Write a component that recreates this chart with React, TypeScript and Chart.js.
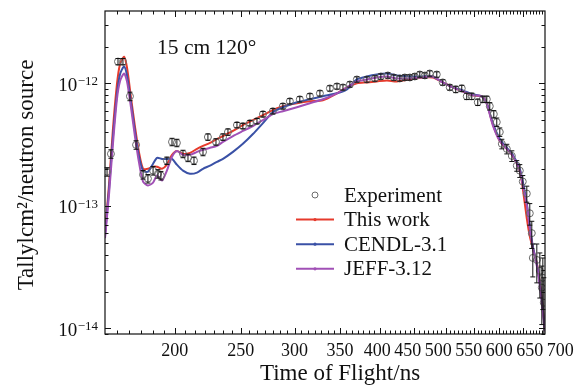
import React, { useEffect, useRef } from "react";
import { Chart, registerables } from "chart.js";

Chart.register(...registerables);

const SERIF = '"Liberation Serif", "Times New Roman", "DejaVu Serif", serif';

// ---- data (time of flight in ns, tally in units of 1e-12 per cm^2 per source neutron) ----
const modelTimes = [158, 160.2, 162.3, 164.5, 166.2, 168.5, 170.2, 172.5, 174.9, 177.2, 179.7, 182.7, 185.9, 188.4, 191.6, 194.8, 198.2, 201.5, 205.7, 210.6, 215.7, 220.1, 225.4, 230.8, 235.5, 243.6, 251.9, 260.6, 269.6, 278.8, 288.4, 302.4, 316, 330.2, 346.3, 358.2, 370.4, 383.2, 396.3, 410, 424, 443.1, 463, 478.9, 495.3, 512.5, 530, 548.2, 565.2, 574.9, 586.6, 600.7, 615.2, 627.7, 642.8, 649.3, 658.2, 664.9, 671.7, 680.9, 687.9, 694.9, 699.5];

const thisWork = [0.060, 0.152, 0.424, 0.981, 1.425, 1.654, 1.348, 0.770, 0.440, 0.276, 0.201, 0.201, 0.209, 0.209, 0.201, 0.217, 0.261, 0.281, 0.266, 0.271, 0.292, 0.309, 0.327, 0.352, 0.372, 0.409, 0.457, 0.502, 0.551, 0.605, 0.651, 0.689, 0.715, 0.728, 0.830, 0.928, 1.0, 1.019, 1.038, 1.057, 1.038, 1.077, 1.118, 1.118, 1.019, 0.928, 0.861, 0.799, 0.785, 0.689, 0.466, 0.339, 0.292, 0.256, 0.194, 0.139, 0.0792, 0.0566, 0.0453, 0.0342, 0.0236, 0.0148, 0.0102];

const cendl31 = [0.0566, 0.139, 0.365, 0.815, 1.183, 1.373, 1.161, 0.702, 0.401, 0.256, 0.194, 0.190, 0.221, 0.247, 0.242, 0.242, 0.242, 0.217, 0.194, 0.183, 0.187, 0.201, 0.213, 0.229, 0.242, 0.276, 0.321, 0.386, 0.474, 0.582, 0.639, 0.702, 0.742, 0.785, 0.830, 0.894, 1.077, 1.139, 1.183, 1.205, 1.161, 1.139, 1.139, 1.139, 1.019, 0.928, 0.878, 0.815, 0.785, 0.689, 0.474, 0.352, 0.298, 0.261, 0.201, 0.158, 0.105, 0.0682, 0.0470, 0.0336, 0.0231, 0.0142, 0.0102];

const jeff312 = [0.0545, 0.126, 0.321, 0.742, 1.038, 1.205, 1.038, 0.639, 0.365, 0.229, 0.158, 0.147, 0.155, 0.177, 0.161, 0.194, 0.252, 0.281, 0.261, 0.261, 0.276, 0.287, 0.298, 0.309, 0.333, 0.372, 0.409, 0.449, 0.502, 0.561, 0.593, 0.639, 0.689, 0.742, 0.830, 0.928, 1.038, 1.077, 1.118, 1.139, 1.098, 1.098, 1.118, 1.139, 1.019, 0.928, 0.861, 0.799, 0.785, 0.676, 0.457, 0.339, 0.292, 0.256, 0.194, 0.147, 0.101, 0.0657, 0.0453, 0.0324, 0.0223, 0.0135, 0.00946];

const expTimes = [159.1, 161.2, 165.1, 167.9, 171.9, 175.5, 179.7, 182.7, 185.9, 189.0, 190.9, 194.8, 198.2, 201.5, 205.7, 209.2, 213.5, 220.1, 223.8, 230.0, 235.5, 239.5, 246.9, 251.9, 258.0, 264.2, 269.6, 278.8, 288.4, 295.3, 305.4, 316.0, 326.9, 338.1, 346.3, 353.4, 361.8, 370.4, 383.2, 393.7, 401.7, 411.4, 419.8, 428.4, 435.6, 443.1, 450.6, 458.3, 466.2, 474.0, 485.4, 495.3, 507.2, 517.6, 528.2, 537.2, 546.4, 557.6, 567.2, 574.9, 580.7, 588.7, 594.6, 600.7, 604.9, 615.2, 625.7, 636.3, 642.8, 649.3, 658.2, 664.9, 669.4, 671.7, 680.9, 687.9, 692.5, 694.9, 697.2];

const expValues = [0.190, 0.266, 1.507, 1.507, 0.785, 0.315, 0.180, 0.167, 0.194, 0.183, 0.177, 0.234, 0.333, 0.327, 0.266, 0.247, 0.234, 0.276, 0.365, 0.333, 0.365, 0.401, 0.457, 0.449, 0.474, 0.492, 0.561, 0.593, 0.651, 0.715, 0.742, 0.785, 0.830, 0.911, 0.946, 0.928, 0.981, 1.077, 1.077, 1.098, 1.139, 1.161, 1.118, 1.098, 1.118, 1.118, 1.139, 1.183, 1.161, 1.205, 1.183, 1.019, 0.928, 0.894, 0.911, 0.785, 0.785, 0.702, 0.742, 0.742, 0.651, 0.561, 0.483, 0.401, 0.321, 0.292, 0.256, 0.213, 0.194, 0.158, 0.126, 0.0870, 0.0599, 0.0376, 0.0362, 0.0295, 0.0215, 0.0259, 0.0162];

// relative uncertainty of each measured point
const expErrors = [0.08, 0.08, 0.06, 0.06, 0.08, 0.08, 0.08, 0.08, 0.08, 0.08, 0.08, 0.07, 0.07, 0.07, 0.07, 0.07, 0.07, 0.07, 0.06, 0.06, 0.06, 0.06, 0.05, 0.05, 0.05, 0.05, 0.05, 0.05, 0.05, 0.05, 0.05, 0.05, 0.05, 0.05, 0.05, 0.05, 0.05, 0.05, 0.05, 0.05, 0.05, 0.05, 0.05, 0.05, 0.05, 0.05, 0.05, 0.05, 0.05, 0.05, 0.05, 0.05, 0.05, 0.06, 0.06, 0.06, 0.06, 0.06, 0.06, 0.06, 0.07, 0.07, 0.08, 0.08, 0.09, 0.09, 0.1, 0.1, 0.12, 0.12, 0.15, 0.2, 0.25, 0.3, 0.35, 0.4, 0.5, 0.45, 0.6];

const xTickValues = [200, 250, 300, 350, 400, 450, 500, 550, 600, 650, 700];
const xMinorPerMajor = 7;
const yDecadeExponents = [-12, -13, -14];

const seriesLabels = ["Experiment", "This work", "CENDL-3.1", "JEFF-3.12"];
const annotationText = "15 cm 120°";
const xTitle = "Time of Flight/ns";
const yTitle = "Tallylcm²/neutron source";

const COLORS = {
  exp: "#6b6b6b",
  thisWork: "#e63a2c",
  cendl: "#3a51a6",
  jeff: "#a150b6",
};

function spreadLabels(pos: number[], gap: number): number[] {
  type G = { n: number; sum: number };
  let groups: G[] = pos.map((p) => ({ n: 1, sum: p }));
  const first = (g: G) => g.sum / g.n - (gap * (g.n - 1)) / 2;
  let changed = true;
  while (changed) {
    changed = false;
    for (let i = 0; i < groups.length - 1; i++) {
      const a = groups[i];
      const b = groups[i + 1];
      const aLast = first(a) + gap * (a.n - 1);
      if (first(b) - aLast < gap) {
        groups.splice(i, 2, { n: a.n + b.n, sum: a.sum + b.sum });
        changed = true;
        break;
      }
    }
  }
  const out: number[] = [];
  groups.forEach((g) => {
    const f = first(g);
    for (let k = 0; k < g.n; k++) out.push(f + gap * k);
  });
  return out;
}

const decorPlugin = {
  id: "decor",
  afterDatasetsDraw(chart: any) {
    const { ctx, scales } = chart;
    const xs = scales.x;
    const ys = scales.y;
    // error bars
    ctx.save();
    ctx.strokeStyle = "#111";
    ctx.lineWidth = 1;
    const yMin = ys.min;
    expTimes.forEach((t, i) => {
      const v = expValues[i] * 1e-12;
      const e = expErrors[i];
      const px = xs.getPixelForValue(t);
      const hi = ys.getPixelForValue(v * (1 + e));
      const loV = v * (1 - e);
      const lo = ys.getPixelForValue(Math.max(loV, yMin));
      ctx.beginPath();
      ctx.moveTo(px, hi);
      ctx.lineTo(px, lo);
      ctx.moveTo(px - 2.5, hi);
      ctx.lineTo(px + 2.5, hi);
      if (loV > yMin) {
        ctx.moveTo(px - 2.5, lo);
        ctx.lineTo(px + 2.5, lo);
      }
      ctx.stroke();
    });
    ctx.restore();
  },
  afterDraw(chart: any) {
    const { ctx, chartArea: a, scales } = chart;
    const xs = scales.x;
    const ys = scales.y;
    ctx.save();
    ctx.strokeStyle = "#111";
    ctx.fillStyle = "#111";
    ctx.lineWidth = 1.2;
    ctx.strokeRect(a.left, a.top, a.right - a.left, a.bottom - a.top);

    ctx.lineWidth = 1;
    ctx.beginPath();
    // x ticks (major + minor), inward on bottom and top
    const majorLen = 6;
    const minorLen = 3.5;
    const xMajors = [150, ...xTickValues];
    for (let m = 0; m < xMajors.length; m++) {
      const v0 = xMajors[m];
      if (v0 >= xs.min && v0 < xs.max) {
        const p = Math.round(xs.getPixelForValue(v0)) + 0.5;
        ctx.moveTo(p, a.bottom);
        ctx.lineTo(p, a.bottom - majorLen);
        ctx.moveTo(p, a.top);
        ctx.lineTo(p, a.top + majorLen);
      }
      if (m < xMajors.length - 1) {
        const step = (xMajors[m + 1] - v0) / xMinorPerMajor;
        for (let k = 1; k < xMinorPerMajor; k++) {
          const v = v0 + step * k;
          if (v <= xs.min || v >= xs.max) continue;
          const p = Math.round(xs.getPixelForValue(v)) + 0.5;
          ctx.moveTo(p, a.bottom);
          ctx.lineTo(p, a.bottom - minorLen);
          ctx.moveTo(p, a.top);
          ctx.lineTo(p, a.top + minorLen);
        }
      }
    }
    // y ticks (decades + 2..9), inward on left and right
    for (let e = -15; e <= -12; e++) {
      for (let k = 1; k <= 9; k++) {
        const v = k * Math.pow(10, e);
        if (v < ys.min || v > ys.max) continue;
        const p = Math.round(ys.getPixelForValue(v)) + 0.5;
        const len = k === 1 ? majorLen : minorLen;
        ctx.moveTo(a.left, p);
        ctx.lineTo(a.left + len, p);
        ctx.moveTo(a.right, p);
        ctx.lineTo(a.right - len, p);
      }
    }
    ctx.stroke();

    // x tick labels
    ctx.font = `18px ${SERIF}`;
    ctx.textAlign = "center";
    ctx.textBaseline = "alphabetic";
    const lp = spreadLabels(xTickValues.map((v) => xs.getPixelForValue(v)), 30.5);
    xTickValues.forEach((v, i) => {
      ctx.fillText(String(v), lp[i], a.bottom + 21.5);
    });

    // y tick labels 10^n
    yDecadeExponents.forEach((e) => {
      const p = ys.getPixelForValue(Math.pow(10, e));
      const sup = "\u2212" + String(-e);
      ctx.font = `13px ${SERIF}`;
      const supW = ctx.measureText(sup).width;
      ctx.font = `19px ${SERIF}`;
      const baseW = ctx.measureText("10").width;
      const right = a.left - 7;
      ctx.textAlign = "left";
      ctx.fillText("10", right - supW - baseW - 0.5, p + 7.5);
      ctx.font = `13px ${SERIF}`;
      ctx.fillText(sup, right - supW, p + 2);
    });

    // axis titles
    ctx.font = `23px ${SERIF}`;
    ctx.textAlign = "center";
    ctx.fillText(xTitle, 340, 380);
    ctx.save();
    ctx.translate(33, (a.top + a.bottom) / 2 + 2.5);
    ctx.rotate(-Math.PI / 2);
    ctx.fillText(yTitle, 0, 0);
    ctx.restore();

    // annotation
    ctx.font = `21.5px ${SERIF}`;
    ctx.textAlign = "left";
    ctx.fillText(annotationText, 157, 54);

    // legend
    const legendColors = [COLORS.exp, COLORS.thisWork, COLORS.cendl, COLORS.jeff];
    seriesLabels.forEach((label, i) => {
      const base = 201.5 + i * 24.6;
      const cy = base - 6.5;
      if (i === 0) {
        ctx.beginPath();
        ctx.strokeStyle = legendColors[0];
        ctx.lineWidth = 1;
        ctx.arc(315, cy, 3, 0, Math.PI * 2);
        ctx.stroke();
      } else {
        ctx.beginPath();
        ctx.strokeStyle = legendColors[i];
        ctx.lineWidth = 2;
        ctx.moveTo(296, cy);
        ctx.lineTo(334, cy);
        ctx.stroke();
        ctx.beginPath();
        ctx.fillStyle = legendColors[i];
        ctx.arc(315, cy, 1.6, 0, Math.PI * 2);
        ctx.fill();
      }
      ctx.fillStyle = "#111";
      ctx.font = `21px ${SERIF}`;
      ctx.textAlign = "left";
      ctx.fillText(label, 344, base);
    });
    ctx.restore();
  },
};

export default function App() {
  const ref = useRef<HTMLCanvasElement | null>(null);

  useEffect(() => {
    if (!ref.current) return;
    const toPts = (vals: number[]) => modelTimes.map((t, i) => ({ x: t, y: vals[i] * 1e-12 }));
    const chart = new Chart(ref.current, {
      type: "line",
      data: {
        datasets: [
          {
            label: seriesLabels[0],
            data: expTimes.map((t, i) => ({ x: t, y: expValues[i] * 1e-12 })),
            showLine: false,
            pointRadius: 3.5,
            pointBorderWidth: 1,
            pointBorderColor: COLORS.exp,
            pointBackgroundColor: "rgba(255,255,255,0)",
            borderColor: COLORS.exp,
          },
          {
            label: seriesLabels[3],
            data: toPts(jeff312),
            borderColor: COLORS.jeff,
            borderWidth: 2,
            pointRadius: 0,
            tension: 0.25,
          },
          {
            label: seriesLabels[2],
            data: toPts(cendl31),
            borderColor: COLORS.cendl,
            borderWidth: 2,
            pointRadius: 0,
            tension: 0.25,
          },
          {
            label: seriesLabels[1],
            data: toPts(thisWork),
            borderColor: COLORS.thisWork,
            borderWidth: 2,
            pointRadius: 0,
            tension: 0.25,
          },
        ],
      },
      options: {
        animation: false,
        responsive: false,
        devicePixelRatio: 1,
        layout: { padding: { left: 0, top: 11, right: 36, bottom: 0 } },
        plugins: {
          legend: { display: false },
          tooltip: { enabled: false },
        },
        scales: {
          x: {
            type: "logarithmic",
            min: 158,
            max: 700,
            ticks: { display: false },
            grid: { display: false },
            border: { display: false },
            afterFit: (s: any) => {
              s.height = 53;
            },
          },
          y: {
            type: "logarithmic",
            min: 9.46e-15,
            max: 3.9e-12,
            ticks: { display: false },
            grid: { display: false },
            border: { display: false },
            afterFit: (s: any) => {
              s.width = 105;
            },
          },
        },
      },
      plugins: [decorPlugin],
    } as any);
    return () => chart.destroy();
  }, []);

  return (
    <div style={{ position: "fixed", left: 0, top: 0, width: 581, height: 387, background: "#fff" }}>
      <canvas ref={ref} width={581} height={387} style={{ width: 581, height: 387, display: "block" }} />
    </div>
  );
}
